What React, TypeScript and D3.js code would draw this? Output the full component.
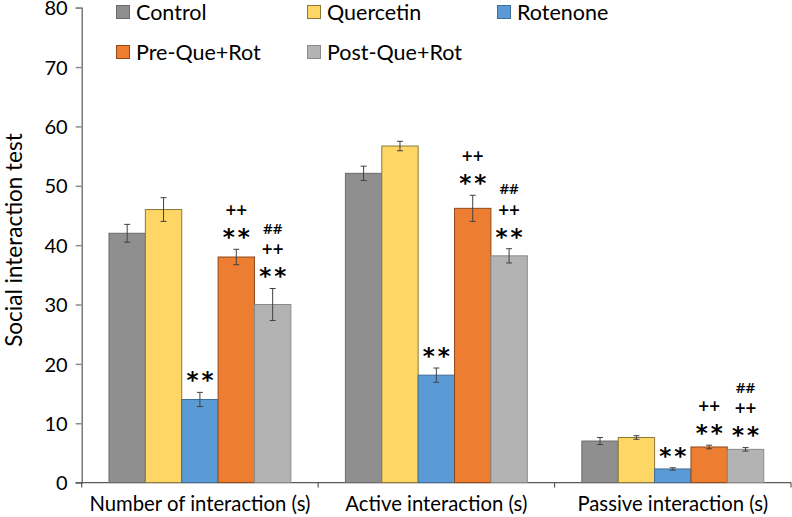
import React, { useEffect, useRef } from 'react';
import * as d3 from 'd3';

const categories = ['Number of interaction (s)', 'Active interaction (s)', 'Passive interaction (s)'];
const seriesNames = ['Control', 'Quercetin', 'Rotenone', 'Pre-Que+Rot', 'Post-Que+Rot'];
const seriesColors = ['#8f8f8f', '#fdd666', '#5b9bd5', '#ed7d31', '#b3b3b3'];
const seriesStrokes = ['#6b6b6b', '#8a7a3a', '#3f6f9c', '#8f4a1c', '#8a8a8a'];

// means per series, one value per category
const controlVals = [42, 52.1, 7];
const quercetinVals = [46, 56.7, 7.6];
const rotenoneVals = [14, 18.1, 2.3];
const preVals = [38, 46.2, 6];
const postVals = [30, 38.2, 5.6];

// standard errors
const controlErr = [1.5, 1.2, 0.6];
const quercetinErr = [2, 0.8, 0.3];
const rotenoneErr = [1.2, 1.2, 0.2];
const preErr = [1.3, 2.2, 0.3];
const postErr = [2.7, 1.2, 0.3];

// significance marks stacked top-down per series (same for each category)
const seriesMarks = [[], [], ['**'], ['++', '**'], ['##', '++', '**']];

const yTicks = [0, 10, 20, 30, 40, 50, 60, 70, 80];

const allVals = [controlVals, quercetinVals, rotenoneVals, preVals, postVals];
const allErr = [controlErr, quercetinErr, rotenoneErr, preErr, postErr];

const FONT = 'Lato, "Open Sans", sans-serif';

export default function App() {
  const svgRef = useRef<SVGSVGElement | null>(null);
  const width = 792;
  const height = 517;

  useEffect(() => {
    document.body.style.margin = '0';
    const svg = d3.select(svgRef.current);
    svg.selectAll('*').remove();

    const left = 81.7;
    const right = 791;
    const x0 = d3.scaleBand<string>().domain(categories).range([left, right]).padding(0);
    const x1 = d3.scaleBand<string>().domain(seriesNames).range([0, x0.bandwidth()])
      .paddingInner(0).paddingOuter(0.75);
    const y = d3.scaleLinear().domain([0, 80]).range([482.6, 7.7]);

    const data = categories.flatMap((c, ci) =>
      seriesNames.map((s, si) => ({
        cat: c, name: s, si, value: allVals[si][ci], err: allErr[si][ci]
      }))
    );

    // y axis
    const yAxis = svg.append('g').attr('transform', `translate(${left},0)`)
      .call(d3.axisLeft(y).tickValues(yTicks).tickSize(6).tickPadding(8));
    yAxis.select('.domain').attr('stroke', '#595959').attr('stroke-width', 1.2);
    yAxis.selectAll('.tick line').attr('stroke', '#8c8c8c').attr('stroke-width', 1.5);
    yAxis.selectAll('.tick text').attr('font-family', FONT).attr('font-size', 20).attr('fill', '#000')
      .attr('dy', '0.36em');

    // x axis
    const xAxisG = svg.append('g').attr('transform', `translate(0,${y(0)})`);
    xAxisG.append('line').attr('x1', left - 6).attr('x2', right).attr('stroke', '#595959').attr('stroke-width', 1.2);
    const boundaries = [left, ...categories.map(c => (x0(c) as number) + x0.bandwidth())];
    xAxisG.selectAll('line.tk').data(boundaries).enter().append('line')
      .attr('class', 'tk').attr('x1', d => d).attr('x2', d => d).attr('y1', 0).attr('y2', 5)
      .attr('stroke', '#595959').attr('stroke-width', 1.2);
    xAxisG.selectAll('text').data(categories).enter().append('text')
      .attr('x', d => (x0(d) as number) + x0.bandwidth() / 2)
      .attr('y', 28)
      .attr('text-anchor', 'middle')
      .attr('font-family', FONT).attr('font-size', 20.3).attr('fill', '#000')
      .text(d => d);

    // bars
    svg.append('g').selectAll('rect').data(data).enter().append('rect')
      .attr('x', d => (x0(d.cat) as number) + (x1(d.name) as number))
      .attr('y', d => y(d.value))
      .attr('width', x1.bandwidth())
      .attr('height', d => y(0) - y(d.value))
      .attr('fill', d => seriesColors[d.si])
      .attr('stroke', d => seriesStrokes[d.si])
      .attr('stroke-width', 1);

    // error bars
    const eb = svg.append('g').selectAll('g').data(data).enter().append('g')
      .attr('transform', d => `translate(${(x0(d.cat) as number) + (x1(d.name) as number) + x1.bandwidth() / 2},0)`);
    eb.append('line').attr('y1', d => y(d.value - d.err)).attr('y2', d => y(d.value + d.err))
      .attr('stroke', '#404040').attr('stroke-width', 1);
    eb.append('line').attr('x1', -3).attr('x2', 3).attr('y1', d => y(d.value + d.err)).attr('y2', d => y(d.value + d.err))
      .attr('stroke', '#404040').attr('stroke-width', 1);
    eb.append('line').attr('x1', -3).attr('x2', 3).attr('y1', d => y(d.value - d.err)).attr('y2', d => y(d.value - d.err))
      .attr('stroke', '#404040').attr('stroke-width', 1);

    // significance marks
    const lineH = 21;
    eb.each(function (d) {
      const marks = seriesMarks[d.si];
      const base = y(d.value + d.err) - 18;
      marks.forEach((m, i) => {
        const cy = base - (marks.length - 1 - i) * lineH;
        const isStar = m === '**';
        d3.select(this).append('text')
          .attr('x', isStar ? 1.5 : 0)
          .attr('y', cy)
          .attr('dy', isStar ? '0.6em' : '0.36em')
          .attr('text-anchor', 'middle')
          .attr('font-family', isStar ? '"DejaVu Sans", sans-serif' : '"Open Sans", sans-serif')
          .attr('font-size', isStar ? 23 : (m === '##' ? 15 : 19))
          .attr('font-weight', isStar ? 'bold' : 600)
          .attr('letter-spacing', isStar ? 3 : 0)
          .attr('fill', '#000')
          .text(m);
      });
    });

    // y label
    svg.append('text')
      .attr('transform', 'translate(22,240) rotate(-90)')
      .attr('text-anchor', 'middle')
      .attr('font-family', FONT).attr('font-size', 22.5).attr('fill', '#000')
      .text('Social interaction test');

    // legend
    const legendPos = [[116, 12], [307, 12], [497, 12], [116, 52], [307, 52]];
    const lg = svg.append('g').selectAll('g').data(seriesNames).enter().append('g')
      .attr('transform', (d, i) => `translate(${legendPos[i][0]},${legendPos[i][1]})`);
    lg.append('rect').attr('x', 0.5).attr('y', -6.5).attr('width', 13).attr('height', 13)
      .attr('fill', (d, i) => seriesColors[i]).attr('stroke', (d, i) => seriesStrokes[i]).attr('stroke-width', 1);
    lg.append('text').attr('x', 20).attr('y', 0).attr('dy', '0.36em')
      .attr('font-family', FONT).attr('font-size', 21.5).attr('fill', '#000')
      .text(d => d);
  }, []);

  return <svg ref={svgRef} width={width} height={height} style={{ display: 'block', background: '#fff' }} />;
}
